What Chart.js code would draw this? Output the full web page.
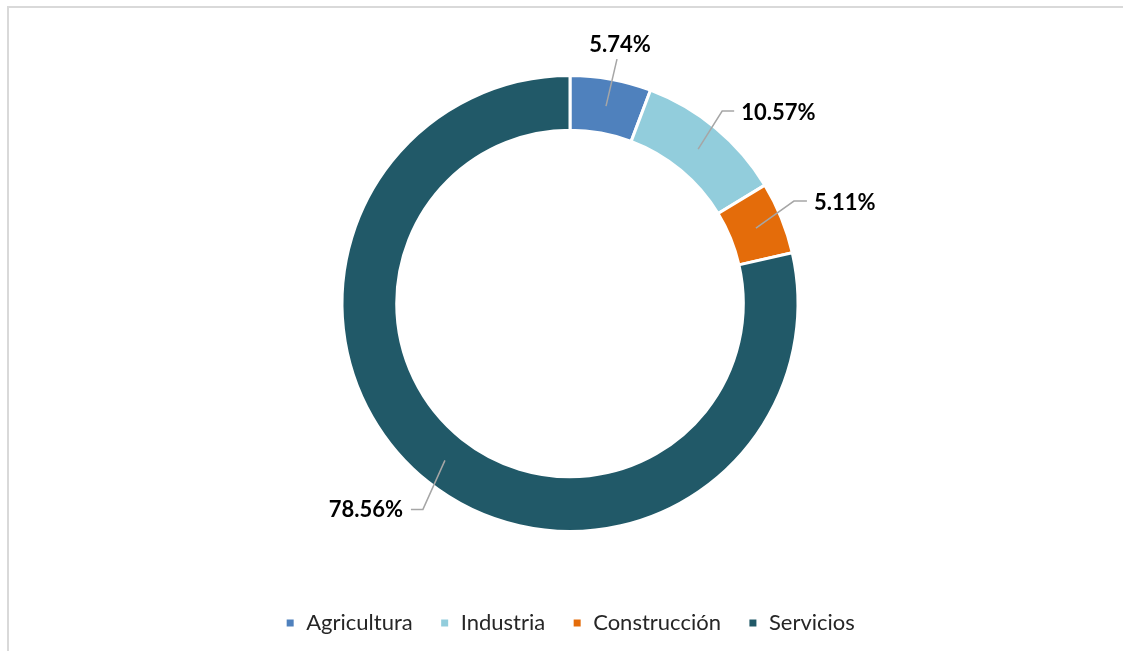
<!DOCTYPE html>
<html>
<head>
<meta charset="utf-8">
<script src="https://cdn.jsdelivr.net/npm/chart.js@4.4.1/dist/chart.umd.min.js"></script>
<style>
  html, body { margin: 0; padding: 0; background: #fff; }
  #wrap { width: 1123px; height: 651px; }
</style>
</head>
<body>
<div id="wrap"><canvas id="myChart"></canvas></div>
<script>
const sectors = ["Agricultura", "Industria", "Construcción", "Servicios"];
const shares = [5.74, 10.57, 5.11, 78.56];
const sectorColors = ["#4F81BD", "#92CDDC", "#E46C0A", "#215968"];

// leader lines: elbow and end relative to the slice anchor, plus text alignment
const leaders = [
  { elbow: [11, -47], end: [11, -47], align: "center" },
  { elbow: [24, -38], end: [36, -38], align: "left" },
  { elbow: [38, -27], end: [51, -27], align: "left" },
  { elbow: [-22, 49], end: [-34, 49], align: "right" },
];

const frame = {
  id: "frame",
  beforeDraw(chart) {
    const c = chart.ctx;
    c.save();
    c.strokeStyle = "#d9d9d9";
    c.lineWidth = 2;
    c.beginPath();
    c.moveTo(8, 651);
    c.lineTo(8, 7);
    c.lineTo(1123, 7);
    c.stroke();
    c.restore();
  },
};

const pctLabels = {
  id: "pctLabels",
  afterDatasetsDraw(chart) {
    const c = chart.ctx;
    const arcs = chart.getDatasetMeta(0).data;
    c.save();
    c.font = "bold 22px Lato";
    c.fillStyle = "#000";
    arcs.forEach((arc, i) => {
      const mid = (arc.startAngle + arc.endAngle) / 2;
      const r = (arc.innerRadius + arc.outerRadius) / 2;
      const ax = arc.x + Math.cos(mid) * r;
      const ay = arc.y + Math.sin(mid) * r;
      const L = leaders[i];
      const ex = ax + L.elbow[0], ey = ay + L.elbow[1];
      const tx = ax + L.end[0], ty = ay + L.end[1];
      c.strokeStyle = "#a6a6a6";
      c.lineWidth = 1.5;
      c.beginPath();
      c.moveTo(ax, ay);
      c.lineTo(ex, ey);
      c.lineTo(tx, ty);
      c.stroke();
      const txt = shares[i].toFixed(2) + "%";
      if (L.align === "center") {
        c.textAlign = "center";
        c.textBaseline = "bottom";
        c.fillText(txt, tx + 3, ty - 3);
      } else if (L.align === "left") {
        c.textAlign = "left";
        c.textBaseline = "middle";
        c.fillText(txt, tx + 7, ty + 2);
      } else {
        c.textAlign = "right";
        c.textBaseline = "middle";
        c.fillText(txt, tx - 8, ty + 1);
      }
    });
    c.restore();
  },
};

new Chart(document.getElementById("myChart"), {
  type: "doughnut",
  data: {
    labels: sectors,
    datasets: [
      {
        data: shares,
        backgroundColor: sectorColors,
        borderColor: "#ffffff",
        borderWidth: 3,
        radius: 228,
      },
    ],
  },
  options: {
    responsive: true,
    maintainAspectRatio: false,
    animation: false,
    cutout: "76%",
    layout: { padding: { left: 17, top: 22, bottom: 7 } },
    plugins: {
      legend: {
        position: "bottom",
        labels: {
          font: { family: "Lato", size: 22 },
          color: "#262626",
          boxWidth: 10,
          boxHeight: 10,
          padding: 27,
        },
      },
      tooltip: { enabled: false },
    },
  },
  plugins: [frame, pctLabels],
});
</script>
</body>
</html>
